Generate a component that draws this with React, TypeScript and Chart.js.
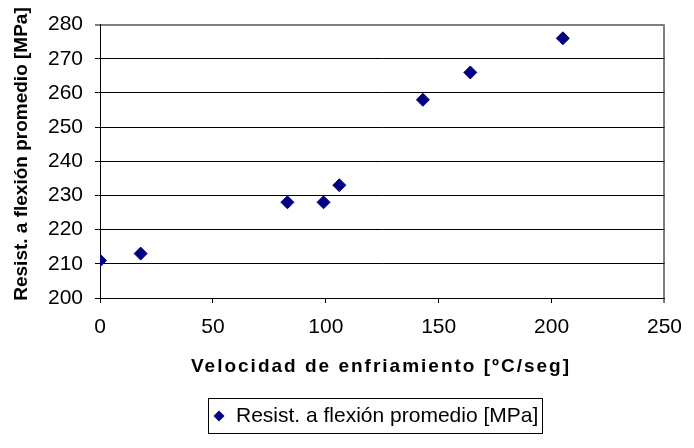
import React, { useEffect, useRef } from "react";
import { Chart, registerables } from "chart.js";

Chart.register(...registerables);

// ---- data ----
const coolingRates = [0, 18, 83, 99, 106, 143, 164, 205];
const flexuralStrength = [211, 213, 228, 228, 233, 258, 266, 276];
const seriesLabel = "Resist. a flexión promedio [MPa]";
const xAxisTitle = "Velocidad de enfriamiento [ºC/seg]";
const yAxisTitle = "Resist. a flexión promedio [MPa]";
const xRange = [0, 250];
const xStep = 50;
const yRange = [200, 280];
const yStep = 10;

const FONT = '"Liberation Sans", Arial, sans-serif';
const MARKER = "#000080";

const overlayPlugin = {
  id: "overlay",
  afterDraw(chart: any) {
    const { ctx } = chart;
    ctx.save();
    // x axis title (bold, letter-spaced)
    ctx.font = `bold 19px ${FONT}`;
    (ctx as any).letterSpacing = "2px";
    ctx.fillStyle = "#000";
    ctx.textAlign = "center";
    ctx.textBaseline = "middle";
    ctx.fillText(xAxisTitle, 381, 367);
    (ctx as any).letterSpacing = "0px";

    // y axis title (bold, rotated)
    ctx.save();
    ctx.translate(22, 154);
    ctx.rotate(-Math.PI / 2);
    ctx.font = `bold 19px ${FONT}`;
    ctx.textAlign = "center";
    ctx.textBaseline = "middle";
    ctx.fillText(yAxisTitle, 0, 0);
    ctx.restore();

    // legend box
    ctx.strokeStyle = "#000";
    ctx.lineWidth = 1;
    ctx.strokeRect(208.5, 398.5, 334, 35);
    const ds = chart.data.datasets[0];
    const mx = 219, my = 416, r = 5.5;
    ctx.beginPath();
    ctx.moveTo(mx, my - r);
    ctx.lineTo(mx + r, my);
    ctx.lineTo(mx, my + r);
    ctx.lineTo(mx - r, my);
    ctx.closePath();
    ctx.fillStyle = ds.backgroundColor;
    ctx.fill();
    ctx.font = `21px ${FONT}`;
    ctx.fillStyle = "#000";
    ctx.textAlign = "left";
    ctx.textBaseline = "middle";
    ctx.fillText(ds.label, 236, 416);
    ctx.restore();
  },
};

export default function App() {
  const canvasRef = useRef<HTMLCanvasElement | null>(null);

  useEffect(() => {
    document.body.style.margin = "0";
    const canvas = canvasRef.current;
    if (!canvas) return;
    const chart = new Chart(canvas, {
      type: "scatter",
      data: {
        datasets: [
          {
            label: seriesLabel,
            data: coolingRates.map((x, i) => ({ x, y: flexuralStrength[i] })),
            pointStyle: "rectRot",
            pointRadius: 6.5,
            pointHoverRadius: 6.5,
            backgroundColor: MARKER,
            borderColor: MARKER,
            borderWidth: 1,
            showLine: false,
          },
        ],
      },
      options: {
        responsive: false,
        animation: false,
        events: [],
        layout: { padding: { left: 0, right: 20, top: 20, bottom: 0 } },
        plugins: {
          legend: { display: false },
          tooltip: { enabled: false },
          title: { display: false },
        },
        scales: {
          x: {
            type: "linear",
            min: xRange[0],
            max: xRange[1],
            afterFit: (scale: any) => {
              scale.height = 150;
            },
            ticks: {
              stepSize: xStep,
              color: "#000",
              font: { family: FONT, size: 21 },
              padding: 12,
              maxRotation: 0,
            },
            grid: {
              drawOnChartArea: true,
              color: (c: any) => (c.tick && c.tick.value === xRange[1] ? "#808080" : "rgba(0,0,0,0)"),
              lineWidth: (c: any) => (c.tick && c.tick.value === xRange[1] ? 2 : 1),
              tickColor: "#000",
              tickWidth: 1,
              tickLength: 5,
            },
            border: { display: true, color: "#000", width: 1 },
            title: { display: false },
          },
          y: {
            type: "linear",
            min: yRange[0],
            max: yRange[1],
            afterFit: (scale: any) => {
              scale.width = 100;
            },
            ticks: {
              stepSize: yStep,
              color: "#000",
              font: { family: FONT, size: 21 },
              padding: 12,
            },
            grid: {
              color: (c: any) => (c.tick && c.tick.value === yRange[1] ? "#808080" : "#000"),
              lineWidth: (c: any) => (c.tick && c.tick.value === yRange[1] ? 2 : 1),
              tickColor: "#000",
              tickWidth: 1,
              tickLength: 5,
            },
            border: { display: true, color: "#000", width: 1 },
            title: { display: false },
          },
        },
      },
      plugins: [overlayPlugin],
    });
    return () => chart.destroy();
  }, []);

  return <canvas ref={canvasRef} width={694} height={448} style={{ display: "block" }} />;
}
